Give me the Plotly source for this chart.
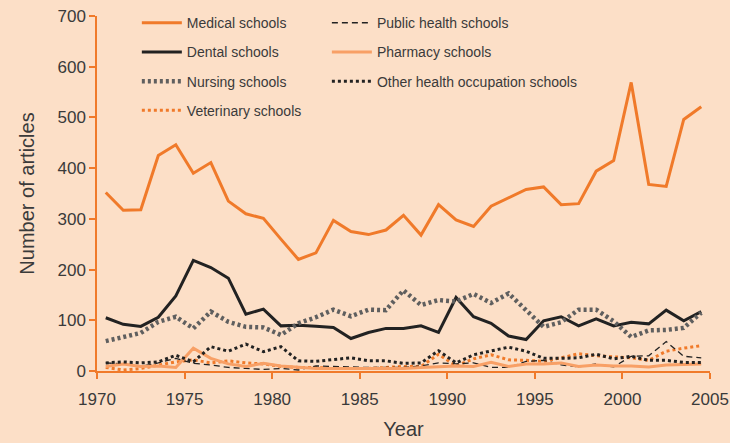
import plotly.graph_objects as go

years = list(range(1970, 2005))

medical = [352, 317, 318, 425, 446, 390, 411, 335, 310, 301, 260, 220, 233, 297, 275,
           269, 278, 307, 268, 328, 298, 285, 325, 342, 358, 363, 328, 330, 394, 415,
           569, 368, 364, 496, 521]
dental = [105, 92, 88, 106, 148, 218, 204, 183, 112, 122, 89, 90, 88, 86, 64,
          76, 84, 84, 89, 76, 145, 107, 94, 69, 62, 99, 107, 89, 103, 89,
          96, 93, 120, 99, 117]
nursing = [59, 66, 75, 97, 107, 84, 117, 97, 87, 86, 71, 94, 106, 121, 108,
           121, 120, 159, 130, 140, 137, 152, 134, 153, 121, 87, 96, 121, 121, 98,
           67, 80, 81, 85, 115]
veterinary = [7, 2, 5, 12, 18, 22, 16, 20, 16, 14, 9, 7, 7, 5, 5,
              5, 7, 9, 9, 33, 10, 24, 32, 22, 21, 19, 26, 34, 30, 28,
              26, 21, 39, 45, 50]
public_health = [16, 14, 9, 16, 25, 15, 12, 7, 5, 3, 5, 2, 10, 9, 7,
                 7, 7, 7, 10, 16, 14, 16, 7, 7, 19, 21, 12, 8, 14, 8,
                 29, 30, 58, 29, 26]
pharmacy = [9, 14, 9, 10, 7, 45, 25, 14, 9, 15, 10, 7, 5, 5, 5,
            5, 5, 5, 7, 9, 10, 9, 17, 9, 14, 14, 16, 9, 12, 10,
            10, 8, 12, 13, 14]
other = [16, 18, 16, 18, 31, 18, 48, 39, 53, 38, 48, 20, 19, 23, 26,
         20, 20, 15, 16, 40, 16, 32, 40, 47, 39, 25, 25, 26, 33, 24,
         29, 21, 21, 17, 17]

x_ticks = [1970, 1975, 1980, 1985, 1990, 1995, 2000, 2005]
y_ticks = [0, 100, 200, 300, 400, 500, 600, 700]

xpos = [y + 0.5 for y in years]

ORANGE = "#F07A2A"
LIGHT_ORANGE = "#F8A066"
BLACK = "#222222"
GRAY = "#5f5f5f"
BG = "#FCDFC7"
TEXT = "#3a3a3a"
FONT = "Liberation Sans, Arial, sans-serif"

series = [
    ("Medical schools", medical, dict(color=ORANGE, width=3, dash="solid"), "legend"),
    ("Dental schools", dental, dict(color=BLACK, width=3, dash="solid"), "legend"),
    ("Nursing schools", nursing, dict(color=GRAY, width=4.5, dash="3px,3px"), "legend"),
    ("Veterinary schools", veterinary, dict(color=ORANGE, width=3, dash="3px,3px"), "legend"),
    ("Public health schools", public_health, dict(color=BLACK, width=1.3, dash="6px,4px"), "legend2"),
    ("Pharmacy schools", pharmacy, dict(color=LIGHT_ORANGE, width=3, dash="solid"), "legend2"),
    ("Other health occupation schools", other, dict(color=BLACK, width=3, dash="3px,3px"), "legend2"),
]

fig = go.Figure()
for name, vals, line, lg in series:
    fig.add_trace(go.Scatter(x=xpos, y=vals, mode="lines", name=name, line=line,
                             legend=lg, legendgroup=name, hoverinfo="skip"))

leg_common = dict(
    bgcolor="rgba(0,0,0,0)",
    font=dict(family=FONT, size=14, color=TEXT),
    traceorder="grouped",
    tracegroupgap=8,
    xanchor="left", yanchor="top",
    xref="paper", yref="paper",
    itemwidth=40,
)

fig.update_layout(
    width=730, height=443,
    paper_bgcolor=BG, plot_bgcolor=BG,
    margin=dict(l=97, r=20, t=16, b=72, autoexpand=False),
    font=dict(family=FONT, size=16, color=TEXT),
    legend=dict(x=0.065, y=1.025, **leg_common),
    legend2=dict(x=0.375, y=1.025, **leg_common),
    xaxis=dict(
        range=[1970, 2005], tickvals=x_ticks, ticktext=[str(t) for t in x_ticks],
        showgrid=False, zeroline=False, showline=True, linecolor=ORANGE, linewidth=1.5,
        ticks="outside", ticklen=6, tickcolor=ORANGE, tickwidth=1.5,
        ticklabelstandoff=6,
        tickfont=dict(family=FONT, size=17, color=TEXT),
        title=dict(text="Year", font=dict(family=FONT, size=20, color=TEXT), standoff=14),
    ),
    yaxis=dict(
        range=[0, 700], tickvals=y_ticks,
        showgrid=False, zeroline=False, showline=True, linecolor=ORANGE, linewidth=1.5,
        ticks="outside", ticklen=6, tickcolor=ORANGE, tickwidth=1.5,
        tickfont=dict(family=FONT, size=17, color=TEXT),
        title=dict(text="Number of articles", font=dict(family=FONT, size=20, color=TEXT), standoff=17),
    ),
)

fig.write_html(
    "out.html",
    config={"displayModeBar": False},
    post_script="document.body.style.margin='0';document.body.style.background='" + BG + "';",
)
